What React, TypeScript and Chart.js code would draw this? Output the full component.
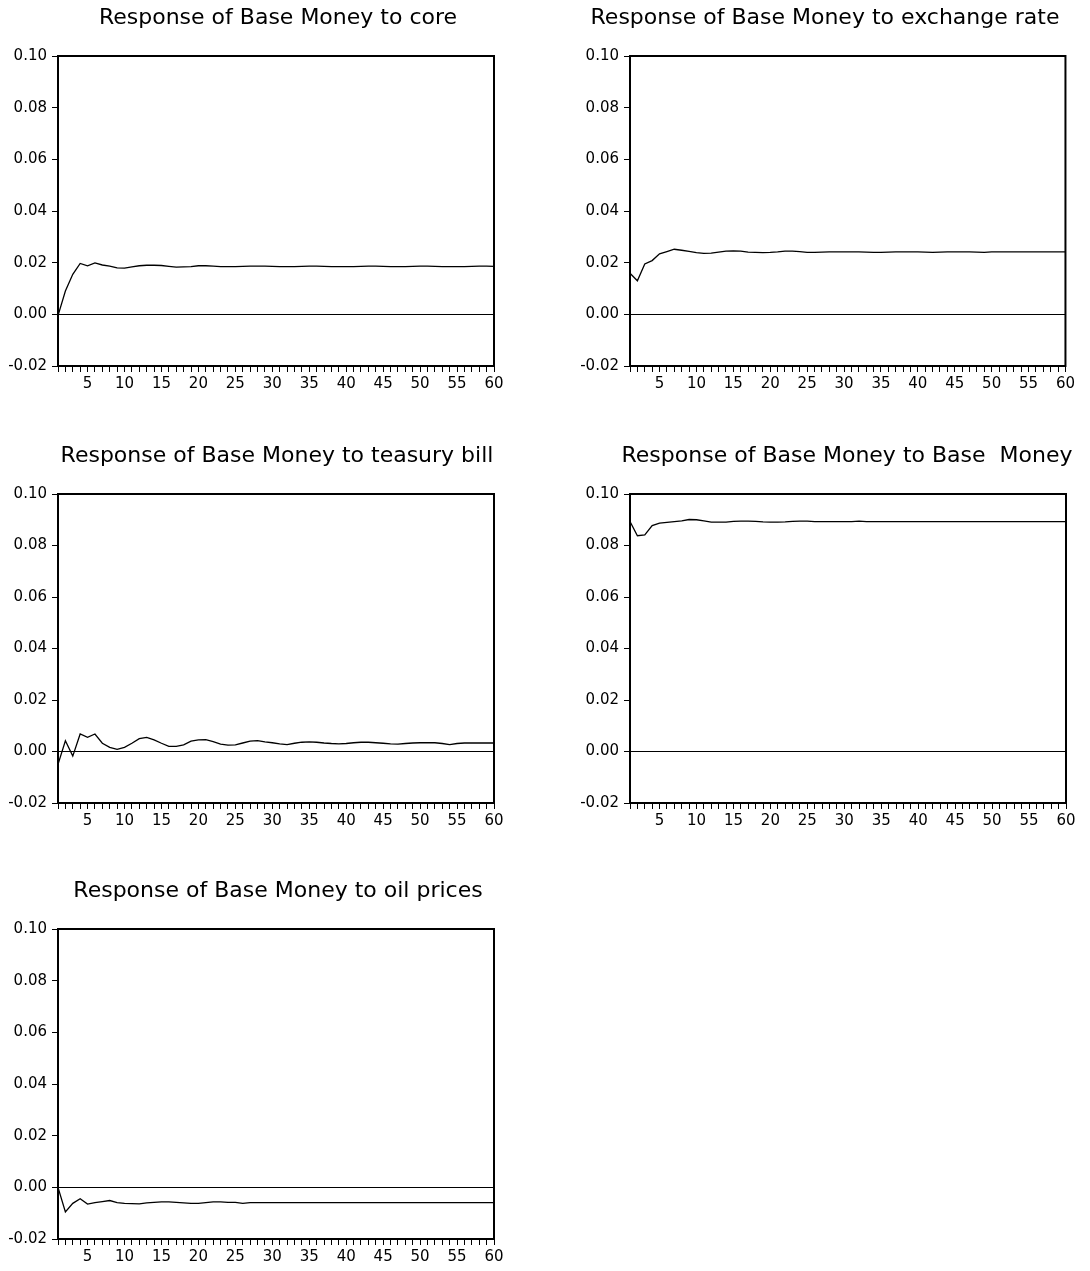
import React, { useEffect, useRef } from "react";
import { Chart, registerables } from "chart.js";

Chart.register(...registerables);

const FONT = "'DejaVu Sans', 'Liberation Sans', sans-serif";

const periods = [
  1, 2, 3, 4, 5, 6, 7, 8, 9, 10, 11, 12, 13, 14, 15, 16, 17, 18, 19, 20,
  21, 22, 23, 24, 25, 26, 27, 28, 29, 30, 31, 32, 33, 34, 35, 36, 37, 38, 39, 40,
  41, 42, 43, 44, 45, 46, 47, 48, 49, 50, 51, 52, 53, 54, 55, 56, 57, 58, 59, 60,
];

const yTickValues = [-0.02, 0.0, 0.02, 0.04, 0.06, 0.08, 0.1];

const titleCore = "Response of Base Money to core";
const titleExchange = "Response of Base Money to exchange rate";
const titleTbill = "Response of Base Money to teasury bill";
const titleBase = "Response of Base Money to Base  Money";
const titleOil = "Response of Base Money to oil prices";

const respCore = [
  -0.0005, 0.009, 0.0155, 0.0197, 0.0188, 0.0199, 0.0191, 0.0187, 0.018, 0.0179,
  0.0184, 0.0188, 0.019, 0.019, 0.0189, 0.0186, 0.0183, 0.0184, 0.0185, 0.0188,
  0.0188, 0.0187, 0.0185, 0.0185, 0.0185, 0.0186, 0.0187, 0.0187, 0.0187, 0.0186,
  0.0185, 0.0185, 0.0185, 0.0186, 0.0187, 0.0187, 0.0186, 0.0185, 0.0185, 0.0185,
  0.0185, 0.0186, 0.0187, 0.0187, 0.0186, 0.0185, 0.0185, 0.0185, 0.0186, 0.0187,
  0.0187, 0.0186, 0.0185, 0.0185, 0.0185, 0.0185, 0.0186, 0.0187, 0.0187, 0.0186,
];

const respExchange = [
  0.0159, 0.013, 0.0195, 0.0208, 0.0234, 0.0243, 0.0252, 0.0248, 0.0244, 0.0239,
  0.0236, 0.0237, 0.0241, 0.0245, 0.0246, 0.0245, 0.0241, 0.024, 0.0239, 0.024,
  0.0242, 0.0245, 0.0245, 0.0243, 0.024, 0.024, 0.0241, 0.0242, 0.0242, 0.0242,
  0.0242, 0.0242, 0.0241, 0.024, 0.024, 0.0241, 0.0242, 0.0242, 0.0242, 0.0242,
  0.0241, 0.024, 0.0241, 0.0242, 0.0242, 0.0242, 0.0242, 0.0241, 0.024, 0.0242,
  0.0242, 0.0242, 0.0242, 0.0242, 0.0242, 0.0242, 0.0242, 0.0242, 0.0242, 0.0242,
];

const respTbill = [
  -0.005, 0.0042, -0.0018, 0.0068, 0.0055, 0.0068, 0.0032, 0.0016, 0.0008, 0.0016,
  0.0032, 0.005, 0.0055, 0.0045, 0.0032, 0.002, 0.002, 0.0026, 0.004, 0.0045,
  0.0046, 0.0038, 0.0029, 0.0025, 0.0026, 0.0033, 0.004, 0.0042, 0.0037, 0.0034,
  0.003, 0.0027, 0.0032, 0.0036, 0.0037, 0.0036, 0.0033, 0.0031, 0.003, 0.0031,
  0.0034, 0.0036, 0.0036, 0.0034, 0.0032, 0.003, 0.0029, 0.0031, 0.0033, 0.0034,
  0.0034, 0.0034, 0.0031, 0.0027, 0.0031, 0.0033, 0.0033, 0.0033, 0.0033, 0.0033,
];

const respBase = [
  0.0893, 0.0838, 0.0841, 0.0877, 0.0887, 0.089, 0.0893, 0.0896, 0.0901, 0.09,
  0.0896, 0.0891, 0.0891, 0.0891, 0.0894, 0.0895, 0.0895, 0.0894, 0.0892, 0.0891,
  0.0891, 0.0892, 0.0894, 0.0895, 0.0895, 0.0893, 0.0893, 0.0893, 0.0893, 0.0893,
  0.0893, 0.0895, 0.0893, 0.0893, 0.0893, 0.0893, 0.0893, 0.0893, 0.0893, 0.0893,
  0.0893, 0.0893, 0.0893, 0.0893, 0.0893, 0.0893, 0.0893, 0.0893, 0.0893, 0.0893,
  0.0893, 0.0893, 0.0893, 0.0893, 0.0893, 0.0893, 0.0893, 0.0893, 0.0893, 0.0893,
];

const respOil = [
  0.0, -0.0095, -0.0062, -0.0044, -0.0065, -0.0059, -0.0055, -0.0051, -0.0059, -0.0062,
  -0.0063, -0.0064, -0.006, -0.0058, -0.0056, -0.0056, -0.0058, -0.006, -0.0062, -0.0062,
  -0.0059, -0.0056, -0.0056, -0.0058, -0.0058, -0.0062, -0.0059, -0.0059, -0.0059, -0.0059,
  -0.0059, -0.0059, -0.0059, -0.0059, -0.0059, -0.0059, -0.0059, -0.0059, -0.0059, -0.0059,
  -0.0059, -0.0059, -0.0059, -0.0059, -0.0059, -0.0059, -0.0059, -0.0059, -0.0059, -0.0059,
  -0.0059, -0.0059, -0.0059, -0.0059, -0.0059, -0.0059, -0.0059, -0.0059, -0.0059, -0.0059,
];

const framePlugin = {
  id: "frame",
  afterDraw(chart: any) {
    const { ctx, chartArea } = chart;
    const { left, top, right, bottom } = chartArea;
    ctx.save();
    ctx.strokeStyle = "#000";
    ctx.lineWidth = 2;
    ctx.strokeRect(left, top, right - left, bottom - top);
    ctx.restore();
  },
};

type PanelProps = {
  title: string;
  values: number[];
  x: number;
  y: number;
  w: number;
  h: number;
  yW: number;
  rW: number;
};

function Panel({ title, values, x, y, w, h, yW, rW }: PanelProps) {
  const ref = useRef<HTMLCanvasElement>(null);
  useEffect(() => {
    const chart = new Chart(ref.current as HTMLCanvasElement, {
      type: "line",
      data: {
        labels: periods,
        datasets: [
          {
            data: values,
            borderColor: "#000",
            borderWidth: 1.3,
            pointRadius: 0,
            tension: 0,
            fill: false,
            xAxisID: "x",
            yAxisID: "y",
          },
        ],
      },
      options: {
        responsive: false,
        animation: false,
        devicePixelRatio: 1,
        layout: { padding: 0 },
        plugins: {
          legend: { display: false },
          tooltip: { enabled: false },
          title: {
            display: true,
            text: title,
            color: "#000",
            font: { family: FONT, size: 22, weight: "normal", lineHeight: 1 },
            padding: { top: 7, bottom: 27 },
          },
        },
        scales: {
          x: {
            type: "category",
            offset: false,
            grid: {
              drawOnChartArea: false,
              drawTicks: true,
              tickLength: 6,
              tickColor: "#000",
              lineWidth: 1,
              offset: false,
            },
            border: { display: false },
            ticks: {
              autoSkip: false,
              maxRotation: 0,
              minRotation: 0,
              padding: 3,
              color: "#000",
              font: { family: FONT, size: 15 },
              callback: (_v: any, i: number) =>
                periods[i] % 5 === 0 ? String(periods[i]) : "",
            },
            afterFit: (s: any) => {
              s.height = 34;
            },
          },
          y: {
            type: "linear",
            position: "left",
            min: -0.02,
            max: 0.1,
            afterBuildTicks: (s: any) => {
              s.ticks = yTickValues.map((v) => ({ value: v }));
            },
            grid: {
              color: (c: any) =>
                c.tick && Math.abs(c.tick.value) < 1e-9 ? "#000" : "rgba(0,0,0,0)",
              lineWidth: 1,
              drawTicks: true,
              tickLength: 6,
              tickColor: "#000",
            },
            border: { display: false },
            ticks: {
              padding: 5,
              color: "#000",
              font: { family: FONT, size: 15 },
              callback: (v: any) => Number(v).toFixed(2),
            },
            afterFit: (s: any) => {
              s.width = yW;
            },
          },
          yR: {
            type: "linear",
            position: "right",
            display: true,
            grid: { display: false },
            border: { display: false },
            ticks: { display: false },
            afterFit: (s: any) => {
              s.width = rW;
            },
          },
        },
      } as any,
      plugins: [framePlugin],
    });
    return () => chart.destroy();
  }, []);
  return (
    <canvas
      ref={ref}
      width={w}
      height={h}
      style={{ position: "absolute", left: x, top: y, width: w, height: h }}
    />
  );
}

export default function App() {
  return (
    <div
      style={{
        position: "absolute",
        left: 0,
        top: 0,
        width: 1090,
        height: 1271,
        overflow: "hidden",
        background: "#fff",
      }}
    >
      <Panel title={titleCore} values={respCore} x={0} y={0} w={556} h={400} yW={58} rW={62} />
      <Panel title={titleExchange} values={respExchange} x={572} y={0} w={506} h={400} yW={58} rW={12} />
      <Panel title={titleTbill} values={respTbill} x={0} y={438} w={554} h={399} yW={58} rW={60} />
      <Panel title={titleBase} values={respBase} x={572} y={438} w={550} h={399} yW={58} rW={56} />
      <Panel title={titleOil} values={respOil} x={0} y={873} w={556} h={400} yW={58} rW={62} />
    </div>
  );
}
